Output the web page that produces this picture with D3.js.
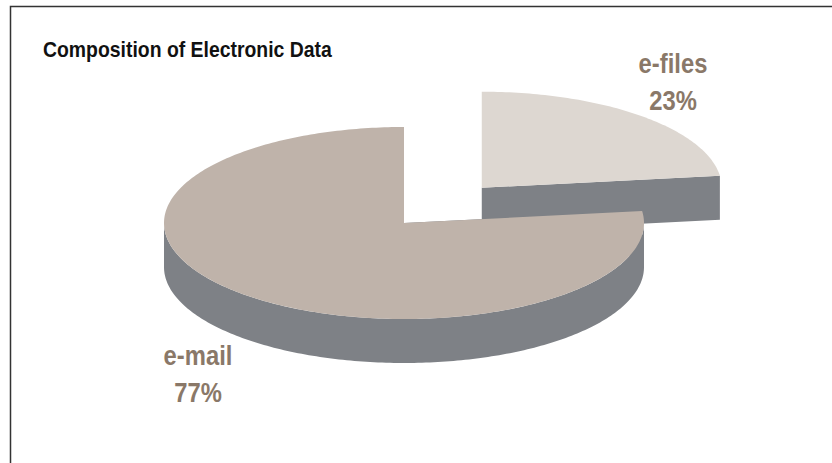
<!DOCTYPE html>
<html>
<head>
<meta charset="utf-8">
<script src="https://cdn.jsdelivr.net/npm/d3@7"></script>
<style>
  body { margin: 0; background: #fff; }
  text { font-family: "Liberation Sans", Arial, sans-serif; font-weight: bold; }
</style>
</head>
<body>
<svg width="832" height="463"></svg>
<script>
// dados
const categorias = ["e-files", "e-mail"];
const valores = [23, 77];
const rotulos = ["23%", "77%"];

const coresTopo = ["#ddd7d1", "#bfb3aa"];
const corLado = "#7e8186";
const corRotulo = "#8a7868";

const svg = d3.select("svg");

// geometria da pizza (elipse em perspectiva)
const cx = 404, cy = 223;
const rx = 240, ry = 96;
const profundidade = 44;
const explosao = [0.49, 0]; // fração do raio, por fatia
const posRotulos = [[673, 73], [198, 365]];

// moldura (só esquerda e topo)
svg.append("path")
    .attr("d", "M10.5,463V6.5H832")
    .attr("fill", "none")
    .attr("stroke", "#333")
    .attr("stroke-width", 1.5);

svg.append("text")
    .attr("transform", "translate(43,57) scale(0.97,1.1)")
    .attr("font-size", 20)
    .attr("fill", "#111")
    .text("Composition of Electronic Data");

const fatias = d3.pie().sort(null).value(d => d)(valores);

const ponto = (a, ox, oy, dz) => [ox + rx * Math.sin(a), oy - ry * Math.cos(a) + dz];
const amostras = (a0, a1) => {
  const n = Math.max(2, Math.ceil(Math.abs(a1 - a0) * 60));
  return d3.range(n + 1).map(i => a0 + (a1 - a0) * i / n);
};
const linha = d3.line();

const grupo = svg.append("g");

fatias.forEach((f, i) => {
  const meio = (f.startAngle + f.endAngle) / 2;
  const ox = cx + rx * explosao[i] * Math.sin(meio);
  const oy = cy - ry * explosao[i] * Math.cos(meio);
  const g = grupo.append("g");

  // faces radiais
  [f.startAngle, f.endAngle].forEach(a => {
    const p = ponto(a, ox, oy, 0);
    const q = ponto(a, ox, oy, profundidade);
    g.append("path")
        .attr("d", linha([[ox, oy], p, q, [ox, oy + profundidade]]) + "Z")
        .attr("fill", corLado);
  });

  // parede externa (apenas a parte da frente)
  const a0 = Math.max(f.startAngle, Math.PI / 2);
  const a1 = Math.min(f.endAngle, Math.PI * 3 / 2);
  if (a1 > a0) {
    const cima = amostras(a0, a1).map(a => ponto(a, ox, oy, 0));
    const baixo = amostras(a1, a0).map(a => ponto(a, ox, oy, profundidade));
    g.append("path")
        .attr("d", linha(cima.concat(baixo)) + "Z")
        .attr("fill", corLado);
  }

  // topo
  const topo = [[ox, oy]].concat(amostras(f.startAngle, f.endAngle).map(a => ponto(a, ox, oy, 0)));
  g.append("path")
      .attr("d", linha(topo) + "Z")
      .attr("fill", coresTopo[i]);
});

// rótulos (fonte comprimida na horizontal)
categorias.forEach((c, i) => {
  const t = svg.append("text")
      .attr("transform", `translate(${posRotulos[i][0]},${posRotulos[i][1]}) scale(0.85,1)`)
      .attr("text-anchor", "middle")
      .attr("font-size", 28)
      .attr("fill", corRotulo);
  t.append("tspan").attr("x", 0).text(c);
  t.append("tspan").attr("x", 0).attr("dy", 37).text(rotulos[i]);
});
</script>
</body>
</html>
